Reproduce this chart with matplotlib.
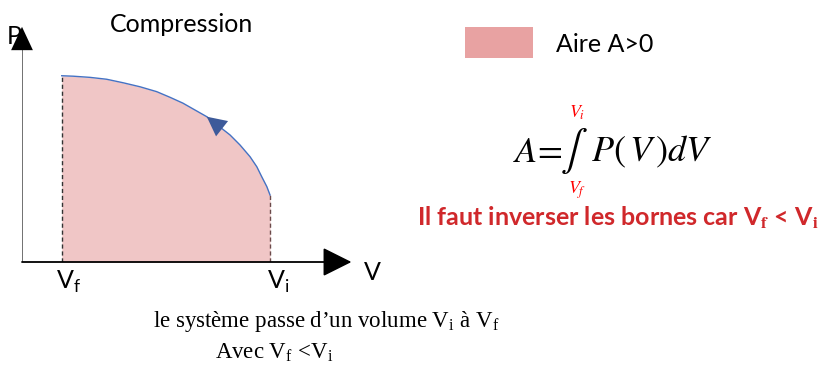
import matplotlib
matplotlib.use("Agg")
import matplotlib.pyplot as plt

# P-V curve (axis units 0..10)
V = [1.23, 1.59, 2.11, 2.62, 3.13, 3.65, 4.17, 4.58, 4.98, 5.72, 6.44, 6.75,
     7.06, 7.27, 7.42, 7.58, 7.68]
P = [7.96, 7.94, 7.89, 7.81, 7.66, 7.49, 7.28, 7.04, 6.79, 6.21, 5.43, 5.00,
     4.50, 4.07, 3.65, 3.22, 2.86]
Vf, Vi = 1.23, 7.68
tick_labels = ["V$_\\mathregular{f}$", "V$_\\mathregular{i}$"]

W, H = 822, 372
fig = plt.figure(figsize=(W / 100, H / 100), dpi=100)

def fx(x):
    return x / W

def fy(y):
    return 1 - y / H

# chart area
ax = fig.add_axes([fx(22), fy(262), 323 / W, 234 / H])
ax.set_xlim(0, 10)
ax.set_ylim(0, 10)
ax.axis("off")

ax.fill_between(V, P, 0, color="#f0c6c6", lw=0)
ax.plot(V, P, color="#4472c4", lw=1)
ax.plot([Vf, Vf], [0, P[0]], ls=(0, (3, 2)), color="#333333", lw=1)
ax.plot([Vi, Vi], [0, P[-1]], ls=(0, (3, 2)), color="#6b4a4a", lw=1)

# arrow on the curve (pointing towards smaller volumes)
ax.annotate("", xy=(V[9], P[9]), xytext=(V[10], P[10]),
            arrowprops=dict(arrowstyle="-|>,head_length=0.7,head_width=0.35",
                            color="#3d5a9a", lw=0, mutation_scale=20,
                            shrinkA=0, shrinkB=0),
            annotation_clip=False)

# axes with arrowheads
ax.annotate("", xy=(10.2, 0), xytext=(0, 0),
            arrowprops=dict(arrowstyle="-|>,head_length=0.6,head_width=0.3",
                            color="black", lw=1.3, mutation_scale=30,
                            shrinkA=0, shrinkB=0), annotation_clip=False)
ax.plot([0, 0], [0, 9.6], color="#666666", lw=1.3)
ax.annotate("", xy=(0, 10.05), xytext=(0, 9.0),
            arrowprops=dict(arrowstyle="-|>,head_length=0.6,head_width=0.28",
                            color="black", lw=0, mutation_scale=28,
                            shrinkA=0, shrinkB=0),
            annotation_clip=False)

sans = "Lato"
fs = 18
ax.text(Vf + 0.2, -0.85, tick_labels[0], fontsize=fs, family=sans, ha="center", va="center")
ax.text(Vi + 0.25, -0.85, tick_labels[1], fontsize=fs, family=sans, ha="center", va="center")

fig.text(fx(372), fy(272), "V", fontsize=fs, family=sans, ha="center", va="center")
fig.text(fx(14), fy(36), "P", fontsize=fs, family=sans, ha="center", va="center", zorder=0)
fig.text(fx(181), fy(24), "Compression", fontsize=fs, family=sans, ha="center", va="center")

# legend
fig.patches.append(plt.Rectangle((fx(465), fy(58)), 68 / W, 31 / H,
                                 transform=fig.transFigure, color="#e8a2a2", lw=0))
fig.text(fx(556), fy(45), "Aire A>0", fontsize=fs, family=sans, ha="left", va="center")

# formula
plt.rcParams["mathtext.fontset"] = "stix"
fig.text(fx(513), fy(152), r"$A\!=$", fontsize=26, ha="left", va="center")
fig.text(fx(574), fy(151), r"$\int$", fontsize=29, ha="center", va="center")
fig.text(fx(591), fy(152), r"$P\left(\,V\,\right)dV$", fontsize=26, ha="left", va="center")
fig.text(fx(577), fy(113), r"$V_{i}$", fontsize=13, color="red", ha="center", va="center")
fig.text(fx(577), fy(190), r"$V_{f}$", fontsize=13, color="red", ha="center", va="center")

fig.text(fx(819), fy(218),
         "Il faut inverser les bornes car V$_\\mathbf{f}$ < V$_\\mathbf{i}$",
         fontsize=18, family=sans, weight="bold", color="#d0282b",
         ha="right", va="center")

serif = "Liberation Serif"
fig.text(fx(326), fy(321), "le système passe d\u2019un volume V$_\\mathregular{i}$ à V$_\\mathregular{f}$",
         fontsize=16.5, family=serif, ha="center", va="center")
fig.text(fx(274), fy(352), "Avec V$_\\mathregular{f}$ <V$_\\mathregular{i}$",
         fontsize=16.5, family=serif, ha="center", va="center")

fig.savefig("out.png", dpi=100, facecolor="white")
